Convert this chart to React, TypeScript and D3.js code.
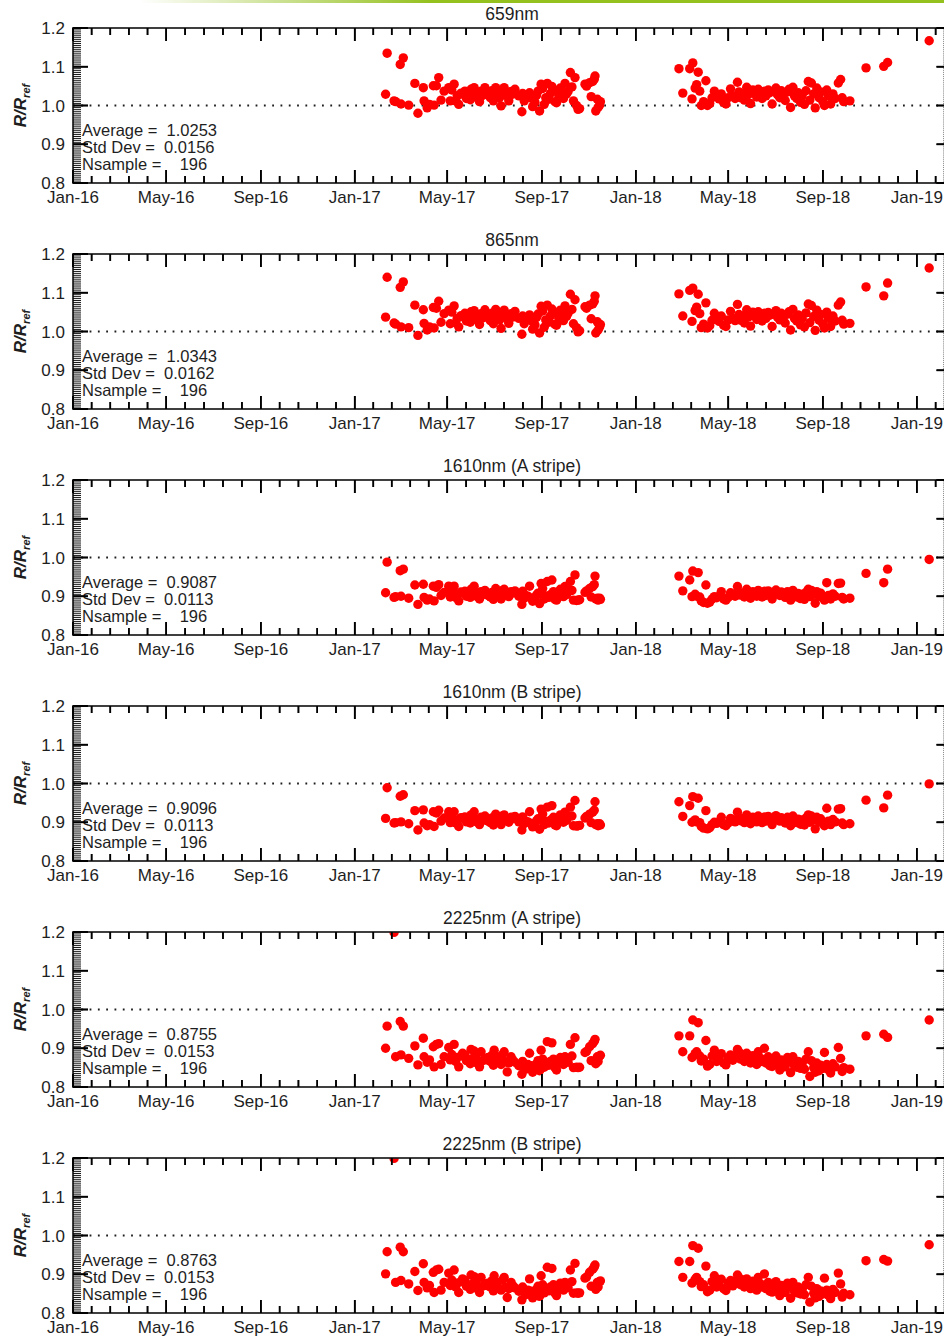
import React, { useEffect, useRef } from "react";
import * as d3 from "d3";

// ---------- data ----------
const dates: string[] = [
  "2017-02-10","2017-02-12","2017-02-21","2017-02-23","2017-03-01","2017-03-02","2017-03-05","2017-03-12","2017-03-20","2017-03-24",
  "2017-03-31","2017-04-01","2017-04-05","2017-04-08","2017-04-13","2017-04-14","2017-04-17","2017-04-20","2017-04-23","2017-04-27",
  "2017-05-03","2017-05-05","2017-05-07","2017-05-10","2017-05-12","2017-05-14","2017-05-16","2017-05-19","2017-05-21","2017-05-24","2017-05-26","2017-05-29","2017-05-31",
  "2017-06-01","2017-06-03","2017-06-05","2017-06-07","2017-06-09","2017-06-12","2017-06-14","2017-06-16","2017-06-19","2017-06-21","2017-06-23","2017-06-26","2017-06-28","2017-06-30",
  "2017-07-01","2017-07-03","2017-07-05","2017-07-08","2017-07-10","2017-07-12","2017-07-14","2017-07-16","2017-07-18","2017-07-20","2017-07-23","2017-07-25","2017-07-28",
  "2017-08-02","2017-08-06","2017-08-07","2017-08-09","2017-08-11","2017-08-14","2017-08-16","2017-08-18","2017-08-20","2017-08-23","2017-08-25","2017-08-27","2017-08-29","2017-08-31",
  "2017-09-02","2017-09-04","2017-09-06","2017-09-08","2017-09-10","2017-09-12","2017-09-14","2017-09-16","2017-09-18","2017-09-20","2017-09-23","2017-09-25","2017-09-26","2017-09-29",
  "2017-10-01","2017-10-03","2017-10-05","2017-10-08","2017-10-10","2017-10-12","2017-10-14","2017-10-16","2017-10-18","2017-10-20","2017-10-27","2017-10-29",
  "2017-11-02","2017-11-04","2017-11-06","2017-11-08","2017-11-09","2017-11-10","2017-11-12","2017-11-13","2017-11-15","2017-11-16",
  "2018-02-26","2018-03-03","2018-03-12","2018-03-15","2018-03-16","2018-03-19","2018-03-21","2018-03-23","2018-03-25","2018-03-27",
  "2018-03-30","2018-04-02","2018-04-04","2018-04-07","2018-04-10","2018-04-13","2018-04-16","2018-04-19","2018-04-22","2018-04-25",
  "2018-04-28","2018-05-01","2018-05-04","2018-05-07","2018-05-10","2018-05-13","2018-05-15","2018-05-17","2018-05-20","2018-05-22",
  "2018-05-25","2018-05-27","2018-05-30","2018-06-02","2018-06-04","2018-06-07","2018-06-09","2018-06-12","2018-06-14","2018-06-17",
  "2018-06-19","2018-06-22","2018-06-24","2018-06-27","2018-06-29","2018-07-02","2018-07-04","2018-07-07","2018-07-09","2018-07-12",
  "2018-07-14","2018-07-17","2018-07-19","2018-07-21","2018-07-24","2018-07-26","2018-07-29","2018-07-31","2018-08-03","2018-08-05",
  "2018-08-08","2018-08-10","2018-08-13","2018-08-15","2018-08-17","2018-08-20","2018-08-22","2018-08-24","2018-08-27","2018-08-29",
  "2018-09-01","2018-09-03","2018-09-06","2018-09-08","2018-09-11","2018-09-14","2018-09-17","2018-09-21","2018-09-24","2018-09-26",
  "2018-09-28","2018-10-06",
  "2018-10-27","2018-11-19","2018-11-24","2019-01-17",
];

const r659: number[] = [
  1.029,1.135,1.012,1.010,1.106,1.004,1.123,1.001,1.057,0.980,
  1.046,1.012,0.994,1.003,1.051,1.001,1.051,1.072,1.014,1.037,
  1.046,1.012,1.040,1.055,1.012,1.025,1.003,1.032,1.029,1.037,1.018,1.023,1.015,
  1.042,1.028,1.046,1.031,1.020,1.010,1.037,1.026,1.046,1.033,1.029,1.020,1.038,1.012,
  1.029,1.046,1.035,1.020,0.999,1.040,1.046,1.031,1.024,1.012,1.036,1.029,1.042,
  1.025,0.984,1.031,1.012,1.022,1.028,1.033,1.019,0.997,1.008,1.026,1.037,0.986,1.055,
  1.044,1.003,1.020,1.057,1.016,1.031,1.049,1.038,1.010,1.007,1.025,1.045,1.027,1.018,
  1.057,1.030,1.036,1.085,1.048,1.012,1.072,1.000,0.990,0.992,1.055,1.050,
  1.059,1.023,1.062,1.068,1.076,0.986,1.016,0.995,1.001,1.010,
  1.095,1.032,1.095,1.017,1.110,1.045,1.054,1.086,1.037,1.000,
  1.010,1.064,1.000,1.005,1.020,1.037,1.025,1.017,1.030,1.008,
  1.004,1.020,1.043,1.025,1.018,1.060,1.035,1.020,1.030,1.014,
  1.047,1.028,1.005,1.040,1.032,1.022,1.042,1.030,1.018,1.037,
  1.025,1.040,1.033,1.004,1.036,1.045,1.028,1.020,1.038,1.030,
  1.013,1.035,1.042,0.995,1.047,1.025,1.018,1.033,1.008,1.025,
  1.003,1.038,1.062,1.014,1.058,1.030,0.994,1.045,1.020,1.035,
  1.010,1.000,1.040,1.025,1.004,1.030,1.018,1.058,1.067,1.020,
  1.010,1.012,
  1.097,1.101,1.111,1.167,
];

const r865: number[] = [
  1.037,1.140,1.022,1.019,1.114,1.012,1.128,1.010,1.068,0.990,
  1.056,1.021,1.004,1.012,1.062,1.009,1.060,1.078,1.024,1.046,
  1.055,1.020,1.050,1.066,1.022,1.034,1.012,1.041,1.038,1.047,1.027,1.031,1.024,
  1.051,1.038,1.054,1.040,1.030,1.018,1.046,1.035,1.056,1.041,1.039,1.028,1.047,1.020,
  1.037,1.057,1.044,1.030,1.008,1.049,1.055,1.041,1.032,1.021,1.046,1.037,1.052,
  1.034,0.993,1.040,1.020,1.032,1.036,1.043,1.028,1.006,1.017,1.036,1.045,0.996,1.065,
  1.053,1.011,1.030,1.068,1.024,1.040,1.058,1.048,1.018,1.016,1.034,1.055,1.036,1.028,
  1.066,1.039,1.047,1.096,1.057,1.020,1.082,1.010,0.999,1.002,1.064,1.060,
  1.068,1.033,1.071,1.078,1.092,0.996,1.025,1.004,1.012,1.018,
  1.097,1.040,1.106,1.026,1.112,1.054,1.063,1.096,1.046,1.010,
  1.019,1.074,1.009,1.015,1.029,1.047,1.033,1.026,1.040,1.016,
  1.013,1.030,1.052,1.034,1.028,1.070,1.044,1.029,1.040,1.022,
  1.056,1.037,1.014,1.050,1.041,1.031,1.051,1.039,1.027,1.047,
  1.034,1.049,1.042,1.013,1.046,1.054,1.037,1.030,1.047,1.039,
  1.022,1.045,1.051,1.004,1.057,1.034,1.027,1.043,1.017,1.034,
  1.012,1.048,1.071,1.023,1.067,1.039,1.003,1.055,1.029,1.044,
  1.019,1.009,1.050,1.034,1.013,1.040,1.027,1.068,1.076,1.029,
  1.019,1.021,
  1.115,1.092,1.125,1.164,
];

const r1610A: number[] = [
  0.909,0.988,0.897,0.899,0.966,0.900,0.970,0.895,0.929,0.879,
  0.931,0.897,0.890,0.893,0.926,0.888,0.923,0.930,0.902,0.910,
  0.926,0.898,0.915,0.926,0.897,0.905,0.888,0.911,0.909,0.913,0.900,0.902,0.897,
  0.918,0.906,0.926,0.907,0.899,0.893,0.912,0.904,0.915,0.906,0.902,0.898,0.910,0.892,
  0.905,0.920,0.911,0.903,0.893,0.915,0.918,0.906,0.903,0.899,0.912,0.908,0.914,
  0.900,0.879,0.913,0.895,0.902,0.900,0.926,0.895,0.887,0.890,0.903,0.908,0.881,0.933,
  0.920,0.893,0.901,0.938,0.897,0.904,0.942,0.912,0.892,0.890,0.905,0.918,0.908,0.899,
  0.925,0.904,0.915,0.938,0.915,0.890,0.955,0.889,0.890,0.891,0.910,0.914,
  0.920,0.898,0.925,0.930,0.952,0.893,0.895,0.890,0.895,0.892,
  0.952,0.914,0.942,0.899,0.965,0.905,0.900,0.961,0.898,0.888,
  0.884,0.929,0.882,0.885,0.893,0.899,0.896,0.900,0.912,0.893,
  0.890,0.897,0.909,0.905,0.900,0.925,0.910,0.903,0.908,0.898,
  0.918,0.906,0.895,0.912,0.905,0.900,0.915,0.907,0.898,0.913,
  0.902,0.914,0.908,0.893,0.910,0.916,0.906,0.902,0.911,0.904,
  0.897,0.912,0.908,0.890,0.915,0.900,0.898,0.907,0.894,0.905,
  0.892,0.910,0.918,0.899,0.915,0.905,0.882,0.912,0.900,0.908,
  0.896,0.890,0.935,0.902,0.893,0.906,0.900,0.933,0.934,0.897,
  0.893,0.895,
  0.959,0.935,0.970,0.995,
];

const r1610B: number[] = [
  0.910,0.989,0.898,0.899,0.967,0.901,0.971,0.896,0.930,0.880,
  0.932,0.898,0.891,0.894,0.927,0.889,0.924,0.931,0.903,0.911,
  0.927,0.899,0.916,0.927,0.898,0.906,0.889,0.912,0.910,0.914,0.901,0.903,0.898,
  0.919,0.907,0.927,0.908,0.900,0.894,0.913,0.905,0.916,0.907,0.903,0.899,0.911,0.893,
  0.906,0.921,0.912,0.904,0.894,0.916,0.919,0.907,0.904,0.900,0.913,0.909,0.915,
  0.901,0.880,0.914,0.896,0.903,0.901,0.927,0.896,0.888,0.891,0.904,0.909,0.882,0.934,
  0.921,0.894,0.902,0.939,0.898,0.905,0.943,0.913,0.893,0.891,0.906,0.919,0.909,0.900,
  0.926,0.905,0.916,0.939,0.916,0.891,0.956,0.890,0.891,0.892,0.911,0.915,
  0.921,0.899,0.926,0.931,0.953,0.894,0.896,0.891,0.896,0.893,
  0.953,0.915,0.943,0.900,0.966,0.906,0.901,0.962,0.899,0.889,
  0.885,0.930,0.883,0.886,0.894,0.900,0.897,0.901,0.913,0.894,
  0.891,0.898,0.910,0.906,0.901,0.926,0.911,0.904,0.909,0.899,
  0.919,0.907,0.896,0.913,0.906,0.901,0.916,0.908,0.899,0.914,
  0.903,0.915,0.909,0.894,0.911,0.917,0.907,0.903,0.912,0.905,
  0.898,0.913,0.909,0.891,0.916,0.901,0.899,0.908,0.895,0.906,
  0.893,0.911,0.919,0.900,0.916,0.906,0.883,0.913,0.901,0.909,
  0.897,0.891,0.936,0.903,0.894,0.907,0.901,0.934,0.935,0.898,
  0.894,0.896,
  0.957,0.937,0.970,0.999,
];

const r2225A: number[] = [
  0.900,0.957,1.199,0.878,0.969,0.883,0.957,0.874,0.906,0.857,
  0.926,0.878,0.864,0.870,0.904,0.852,0.910,0.912,0.858,0.878,
  0.902,0.870,0.884,0.910,0.866,0.876,0.852,0.880,0.887,0.883,0.868,0.870,0.860,
  0.897,0.874,0.893,0.880,0.862,0.852,0.891,0.868,0.874,0.870,0.876,0.866,0.882,0.856,
  0.895,0.870,0.878,0.862,0.858,0.884,0.891,0.865,0.839,0.862,0.878,0.870,0.864,
  0.855,0.833,0.866,0.852,0.846,0.858,0.887,0.855,0.838,0.849,0.860,0.868,0.842,0.895,
  0.872,0.851,0.860,0.917,0.856,0.866,0.914,0.872,0.850,0.844,0.862,0.876,0.868,0.858,
  0.878,0.870,0.864,0.910,0.880,0.850,0.927,0.851,0.850,0.851,0.889,0.892,
  0.904,0.868,0.912,0.918,0.923,0.860,0.878,0.866,0.880,0.882,
  0.932,0.891,0.932,0.876,0.973,0.886,0.891,0.966,0.880,0.867,
  0.872,0.920,0.854,0.858,0.880,0.895,0.866,0.878,0.886,0.862,
  0.857,0.875,0.883,0.869,0.880,0.897,0.890,0.872,0.884,0.866,
  0.887,0.876,0.862,0.881,0.870,0.858,0.891,0.874,0.866,0.900,
  0.862,0.878,0.855,0.853,0.872,0.880,0.862,0.844,0.870,0.858,
  0.852,0.876,0.866,0.837,0.878,0.855,0.851,0.866,0.848,0.860,
  0.846,0.872,0.891,0.827,0.868,0.850,0.838,0.862,0.842,0.856,
  0.848,0.889,0.858,0.845,0.836,0.860,0.852,0.902,0.874,0.840,
  0.850,0.846,
  0.932,0.936,0.928,0.973,
];

const r2225B: number[] = [
  0.901,0.958,1.199,0.879,0.970,0.884,0.958,0.875,0.907,0.858,
  0.927,0.879,0.865,0.871,0.905,0.853,0.911,0.913,0.859,0.879,
  0.903,0.871,0.885,0.911,0.867,0.877,0.853,0.881,0.888,0.884,0.869,0.871,0.861,
  0.898,0.875,0.894,0.881,0.863,0.853,0.892,0.869,0.875,0.871,0.877,0.867,0.883,0.857,
  0.896,0.871,0.879,0.863,0.859,0.885,0.892,0.866,0.840,0.863,0.879,0.871,0.865,
  0.856,0.834,0.867,0.853,0.847,0.859,0.888,0.856,0.839,0.850,0.861,0.869,0.843,0.896,
  0.873,0.852,0.861,0.918,0.857,0.867,0.915,0.873,0.851,0.845,0.863,0.877,0.869,0.859,
  0.879,0.871,0.865,0.911,0.881,0.851,0.928,0.852,0.851,0.852,0.890,0.893,
  0.905,0.869,0.913,0.919,0.924,0.861,0.879,0.867,0.881,0.883,
  0.933,0.892,0.933,0.877,0.974,0.887,0.892,0.967,0.881,0.868,
  0.873,0.921,0.855,0.859,0.881,0.896,0.867,0.879,0.887,0.863,
  0.858,0.876,0.884,0.870,0.881,0.898,0.891,0.873,0.885,0.867,
  0.888,0.877,0.863,0.882,0.871,0.859,0.892,0.875,0.867,0.901,
  0.863,0.879,0.856,0.854,0.873,0.881,0.863,0.845,0.871,0.859,
  0.853,0.877,0.867,0.838,0.879,0.856,0.852,0.867,0.849,0.861,
  0.847,0.873,0.892,0.828,0.869,0.851,0.839,0.863,0.843,0.857,
  0.849,0.890,0.859,0.846,0.837,0.861,0.853,0.903,0.875,0.841,
  0.851,0.847,
  0.935,0.938,0.934,0.976,
];

const panelTitles = ["659nm", "865nm", "1610nm (A stripe)", "1610nm (B stripe)", "2225nm (A stripe)", "2225nm (B stripe)"];
const averages = ["1.0253", "1.0343", "0.9087", "0.9096", "0.8755", "0.8763"];
const stdDevs = ["0.0156", "0.0162", "0.0113", "0.0113", "0.0153", "0.0153"];
const nSamples = ["196", "196", "196", "196", "196", "196"];
const xMajorTicks = ["2016-01-01","2016-05-01","2016-09-01","2017-01-01","2017-05-01","2017-09-01","2018-01-01","2018-05-01","2018-09-01","2019-01-01"];
const xDomain = ["2016-01-01", "2019-02-15"];
const yMajorTicks = [0.8, 0.9, 1.0, 1.1, 1.2];
const yDomain = [0.8, 1.2];
const refLine = 1.0;

const series = [r659, r865, r1610A, r1610B, r2225A, r2225B];

// ---------- layout ----------
const W = 944;
const H = 1336;
const LEFT = 73;
const RIGHT = 951.5;
const TOP0 = 28;
const PH = 155;
const GAP = 226;
const FONT = "'Liberation Sans', Arial, Helvetica, sans-serif";
const INK = "#1e1e1e";
const NB = "\u00A0";

const parse = d3.utcParse("%Y-%m-%d");
const fmt = d3.utcFormat("%b-%y");

function tickGeometry() {
  const x = d3.scaleUtc().domain(xDomain.map((s) => parse(s) as Date)).range([LEFT, RIGHT]);
  const majorDates = xMajorTicks.map((s) => parse(s) as Date);
  const majorPx = majorDates.map((d) => x(d));
  const minorPx: number[] = [];
  for (let i = 0; i < majorPx.length - 1; i++) {
    for (let k = 1; k < 5; k++) minorPx.push(majorPx[i] + ((majorPx[i + 1] - majorPx[i]) * k) / 5);
  }
  const n = majorPx.length;
  const step = (majorPx[n - 1] - majorPx[n - 2]) / 5;
  for (let p = majorPx[n - 1] + step; p < RIGHT; p += step) minorPx.push(p);
  return { x, majorDates, majorPx, minorPx };
}

export default function App() {
  const { x, majorDates, majorPx, minorPx } = tickGeometry();
  const yMinor = d3.range(0, 81).map((i) => 0.8 + i * 0.005);
  const pts = dates.map((s) => parse(s) as Date);
  const tops = series.map((_, i) => TOP0 + i * GAP);
  const tickRef = useRef<SVGGElement | null>(null);

  // imperative tick drawing with d3 (duplicates the React ticks below)
  useEffect(() => {
    if (!tickRef.current) return;
    const g = d3.select(tickRef.current);
    g.selectAll("*").remove();
    tops.forEach((top) => {
      const bottom = top + PH;
      const y = d3.scaleLinear().domain(yDomain).range([bottom, top]);
      const segs: [number, number, number, number, number][] = [];
      majorPx.forEach((p) => { segs.push([p, bottom, p, bottom - 13, 1.7]); segs.push([p, top, p, top + 13, 1.7]); });
      minorPx.forEach((p) => { segs.push([p, bottom, p, bottom - 7, 1.6]); segs.push([p, top, p, top + 7, 1.6]); });
      yMajorTicks.forEach((v) => { segs.push([LEFT, y(v), LEFT + 15, y(v), 1.7]); segs.push([RIGHT, y(v), RIGHT - 15, y(v), 1.7]); });
      g.append("g")
        .selectAll("line")
        .data(segs)
        .join("line")
        .attr("x1", (d) => d[0]).attr("y1", (d) => d[1])
        .attr("x2", (d) => d[2]).attr("y2", (d) => d[3])
        .attr("stroke", "#000").attr("stroke-width", (d) => d[4]);
    });
  }, []);

  return (
    <svg width={W} height={H} style={{ position: "absolute", left: 0, top: 0, background: "#fff" }}>
      <defs>
        <linearGradient id="topbar" gradientUnits="userSpaceOnUse" x1={140} y1={0} x2={430} y2={0}>
          <stop offset="0" stopColor="#95c11f" stopOpacity={0} />
          <stop offset="1" stopColor="#95c11f" stopOpacity={1} />
        </linearGradient>
        {tops.map((top, i) => (
          <clipPath id={`clip${i}`} key={i}>
            <rect x={LEFT} y={top} width={RIGHT - LEFT} height={PH} />
          </clipPath>
        ))}
      </defs>
      <rect x={140} y={0} width={W - 140} height={3} fill="url(#topbar)" />

      {series.map((vals, i) => {
        const top = tops[i];
        const bottom = top + PH;
        const y = d3.scaleLinear().domain(yDomain).range([bottom, top]);
        const n = Math.min(vals.length, pts.length);
        return (
          <g key={`p${i}`} fontFamily={FONT}>
            <text x={512} y={top - 8} textAnchor="middle" fontSize={17.5} fill={INK}>
              {panelTitles[i]}
            </text>
            <line x1={LEFT} x2={RIGHT} y1={y(refLine)} y2={y(refLine)} stroke={INK} strokeWidth={1.8} strokeDasharray="1.8 6.5" />
            <g clipPath={`url(#clip${i})`}>
              {d3.range(n).map((j) => (
                <circle key={j} cx={x(pts[j])} cy={y(vals[j])} r={4.7} fill="#ff0000" />
              ))}
            </g>
            <rect x={LEFT} y={top} width={RIGHT - LEFT} height={PH} fill="none" stroke={INK} strokeWidth={1.7} />
            {majorPx.map((p, k) => (
              <text key={`xl${k}`} x={p} y={bottom + 20} textAnchor="middle" fontSize={17} fill={INK}>
                {fmt(majorDates[k])}
              </text>
            ))}
            {yMajorTicks.map((v, k) => (
              <text key={`yl${k}`} x={65} y={y(v)} dy="0.36em" textAnchor="end" fontSize={17} fill={INK}>
                {d3.format(".1f")(v)}
              </text>
            ))}
            <text transform={`translate(26,${(top + bottom) / 2}) rotate(-90)`} textAnchor="middle" fontSize={17} fontWeight="bold" fontStyle="italic" fill={INK}>
              R/R<tspan fontSize={11} dy={4}>ref</tspan>
            </text>
            <text x={82} y={top + 108} fontSize={16.5} fill={INK}>{`Average =${NB}${NB}${averages[i]}`}</text>
            <text x={82} y={top + 125} fontSize={16.5} fill={INK}>{`Std Dev =${NB}${NB}${stdDevs[i]}`}</text>
            <text x={82} y={top + 141.5} fontSize={16.5} fill={INK}>{`Nsample =${NB}${NB}${NB}${NB}${nSamples[i]}`}</text>
          </g>
        );
      })}

      {/* tick marks drawn by React */}
      {tops.map((top, i) => {
        const bottom = top + PH;
        const y = d3.scaleLinear().domain(yDomain).range([bottom, top]);
        return (
          <g key={`t${i}`}>
            {majorPx.map((p, k) => (
              <g key={`M${k}`}>
                <line x1={p} x2={p} y1={bottom} y2={bottom - 13} stroke="#000" strokeWidth={1.7} />
                <line x1={p} x2={p} y1={top} y2={top + 13} stroke="#000" strokeWidth={1.7} />
              </g>
            ))}
            {minorPx.map((p, k) => (
              <g key={`m${k}`}>
                <line x1={p} x2={p} y1={bottom} y2={bottom - 7} stroke="#000" strokeWidth={1.6} />
                <line x1={p} x2={p} y1={top} y2={top + 7} stroke="#000" strokeWidth={1.6} />
              </g>
            ))}
            {yMajorTicks.map((v, k) => (
              <g key={`yM${k}`}>
                <line x1={LEFT} x2={LEFT + 15} y1={y(v)} y2={y(v)} stroke="#000" strokeWidth={1.7} />
                <line x1={RIGHT} x2={RIGHT - 15} y1={y(v)} y2={y(v)} stroke="#000" strokeWidth={1.7} />
              </g>
            ))}
            {yMinor.map((v, k) => (
              <g key={`ym${k}`}>
                <line x1={LEFT} x2={LEFT + 8} y1={y(v)} y2={y(v)} stroke="#000" strokeWidth={0.9} />
                <line x1={RIGHT} x2={RIGHT - 8} y1={y(v)} y2={y(v)} stroke="#000" strokeWidth={0.9} />
              </g>
            ))}
          </g>
        );
      })}
      <g ref={tickRef} />
    </svg>
  );
}
